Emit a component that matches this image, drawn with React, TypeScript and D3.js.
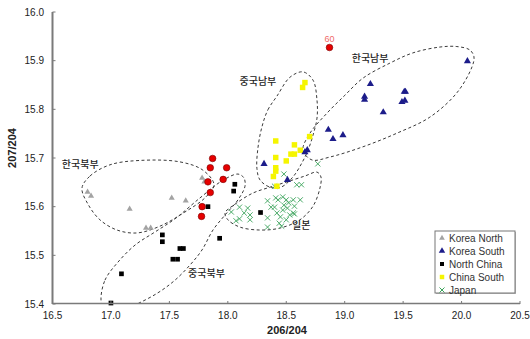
import React from "react";
import * as d3 from "d3";

const W = 530;
const H = 339;

const xTicks = [16.5, 17.0, 17.5, 18.0, 18.5, 19.0, 19.5, 20.0, 20.5];
const yTicks = [15.4, 15.5, 15.6, 15.7, 15.8, 15.9, 16.0];

const koreaNorth: [number, number][] = [
  [16.80, 15.630], [16.83, 15.622], [17.16, 15.595], [17.30, 15.556], [17.34, 15.556],
  [17.52, 15.618], [17.64, 15.612], [17.78, 15.659], [17.80, 15.651],
];
const koreaSouth: [number, number][] = [
  [20.05, 15.899], [19.22, 15.852], [19.17, 15.826], [19.17, 15.820], [19.51, 15.836],
  [19.52, 15.836], [19.49, 15.815], [19.515, 15.818], [19.33, 15.794], [18.985, 15.747],
  [18.90, 15.739], [18.86, 15.758], [18.68, 15.716], [18.66, 15.712], [18.31, 15.688],
  [18.51, 15.655],
];
const northChina: [number, number][] = [
  [18.06, 15.646], [18.05, 15.632], [17.83, 15.600], [18.28, 15.588], [17.93, 15.535],
  [17.59, 15.514], [17.62, 15.514], [17.44, 15.542], [17.44, 15.528], [17.53, 15.492],
  [17.57, 15.492], [17.09, 15.462], [17.00, 15.402],
];
const chinaSouth: [number, number][] = [
  [18.66, 15.855], [18.64, 15.845], [18.41, 15.735], [18.57, 15.727], [18.70, 15.744],
  [18.62, 15.716], [18.54, 15.708], [18.57, 15.708], [18.41, 15.701], [18.50, 15.694],
  [18.41, 15.680], [18.41, 15.673], [18.39, 15.662], [18.42, 15.642],
];
const japan: [number, number][] = [
  [18.77, 15.688], [18.48, 15.667], [18.40, 15.642], [18.59, 15.645], [18.63, 15.645],
  [18.03, 15.589], [18.10, 15.599], [18.17, 15.597], [18.14, 15.587], [18.19, 15.583],
  [18.10, 15.575], [18.19, 15.573], [18.07, 15.571], [18.34, 15.558], [18.44, 15.566],
  [18.46, 15.560], [18.34, 15.612], [18.37, 15.599], [18.47, 15.620], [18.43, 15.614],
  [18.50, 15.614], [18.56, 15.614], [18.62, 15.614], [18.40, 15.599], [18.42, 15.587],
  [18.47, 15.593], [18.51, 15.597], [18.57, 15.601], [18.53, 15.583], [18.45, 15.579],
  [18.56, 15.587], [18.34, 15.577], [18.50, 15.573], [18.41, 15.618], [18.52, 15.608],
  [18.57, 15.585], [18.48, 15.603],
];
const redSamples: [number, number][] = [
  [17.87, 15.699], [17.85, 15.680], [17.99, 15.680], [17.96, 15.656], [17.83, 15.651],
  [17.85, 15.629], [17.78, 15.600], [17.775, 15.580],
];
const labeledSample: [number, number] = [18.87, 15.927];
const labeledSampleText = "60";

// Dashed group outlines (data coordinates)
const outlineKoreaNorth: [number, number][] = [
  [16.752, 15.638], [16.821, 15.663], [16.992, 15.686], [17.249, 15.695], [17.591, 15.692],
  [17.787, 15.675], [17.882, 15.645], [17.804, 15.618], [17.633, 15.589], [17.420, 15.560],
  [17.223, 15.546], [17.052, 15.552], [16.906, 15.573], [16.804, 15.605],
];
const outlineNorthChina: [number, number][] = [
  [16.915, 15.408], [16.949, 15.449], [17.060, 15.486], [17.206, 15.521], [17.377, 15.548],
  [17.548, 15.575], [17.762, 15.618], [17.950, 15.653], [18.087, 15.667], [18.138, 15.659],
  [18.147, 15.642], [18.087, 15.614], [17.984, 15.585], [17.873, 15.552], [17.779, 15.511],
  [17.676, 15.480], [17.548, 15.449], [17.402, 15.423], [17.223, 15.400], [17.060, 15.384],
  [16.941, 15.388],
];
const outlineChinaSouth: [number, number][] = [
  [18.292, 15.764], [18.343, 15.799], [18.420, 15.827], [18.532, 15.866], [18.643, 15.877],
  [18.729, 15.860], [18.763, 15.819], [18.763, 15.782], [18.729, 15.747], [18.686, 15.716],
  [18.634, 15.690], [18.557, 15.661], [18.455, 15.640], [18.361, 15.640], [18.275, 15.655],
  [18.249, 15.679], [18.258, 15.721],
];
const outlineKoreaSouth: [number, number][] = [
  [18.643, 15.716], [18.703, 15.751], [18.848, 15.792], [19.002, 15.829], [19.156, 15.864],
  [19.387, 15.895], [19.584, 15.916], [19.815, 15.928], [19.960, 15.929], [20.071, 15.922],
  [20.106, 15.908], [20.089, 15.887], [19.960, 15.834], [19.729, 15.784], [19.447, 15.751],
  [19.156, 15.723], [18.874, 15.702], [18.720, 15.696],
];
const outlineJapan: [number, number][] = [
  [17.976, 15.587], [18.061, 15.605], [18.215, 15.628], [18.361, 15.640], [18.506, 15.651],
  [18.660, 15.663], [18.763, 15.671], [18.797, 15.661], [18.788, 15.638], [18.729, 15.601],
  [18.617, 15.573], [18.446, 15.556], [18.275, 15.552], [18.104, 15.558], [18.001, 15.573],
];

const groupLabels: { text: string; x: number; y: number }[] = [
  { text: "한국북부", x: 16.58, y: 15.680 },
  { text: "중국남부", x: 18.10, y: 15.849 },
  { text: "한국남부", x: 19.06, y: 15.897 },
  { text: "일본", x: 18.55, y: 15.555 },
  { text: "중국북부", x: 17.66, y: 15.456 },
];

const legendNames = ["Korea North", "Korea South", "North China", "China South", "Japan"];

const COLORS = {
  kn: "#a3a3a3",
  ks: "#1c1c8a",
  nc: "#000000",
  cs: "#f5f500",
  jp: "#3aa35a",
  red: "#e60000",
};

export default function App() {
  const margin = { left: 52.5, right: 520, top: 12, bottom: 304 };
  const x = d3.scaleLinear().domain([16.5, 20.5]).range([margin.left, margin.right]);
  const y = d3.scaleLinear().domain([15.4, 16.0]).range([margin.bottom, margin.top]);

  const outline = d3
    .line<[number, number]>()
    .x((d) => x(d[0]))
    .y((d) => y(d[1]))
    .curve(d3.curveCatmullRomClosed.alpha(0.5));

  const tri = (size: number) => d3.symbol(d3.symbolTriangle, size)() as string;
  const sq = (size: number) => d3.symbol(d3.symbolSquare, size)() as string;

  const crossPath = (s: number) => `M${-s},${-s}L${s},${s}M${-s},${s}L${s},${-s}`;

  const axisColor = "#7a7a7a";
  const tickFont = "'Liberation Sans', Arial, sans-serif";
  const krFont = "'Noto Sans CJK KR', sans-serif";

  const outlines = [outlineKoreaNorth, outlineNorthChina, outlineChinaSouth, outlineKoreaSouth, outlineJapan];

  const legendX = 435;
  const legendY = 231;
  const legendRowH = 13;

  const legendMarker = (i: number) => {
    if (i === 0) return <path d={tri(14)} fill={COLORS.kn} />;
    if (i === 1) return <path d={tri(18)} fill={COLORS.ks} />;
    if (i === 2) return <path d={sq(16)} fill={COLORS.nc} />;
    if (i === 3) return <path d={sq(20)} fill={COLORS.cs} />;
    return <path d={crossPath(2.5)} stroke={COLORS.jp} strokeWidth={1} fill="none" />;
  };

  return (
    <div style={{ position: "absolute", left: 0, top: 0 }}>
      <svg width={W} height={H} style={{ display: "block", background: "#fff" }}>
        <defs>
          <clipPath id="plotClip">
            <rect x={margin.left} y={margin.top} width={margin.right - margin.left} height={margin.bottom - margin.top} />
          </clipPath>
        </defs>

        <g clipPath="url(#plotClip)">
          {outlines.map((o, i) => (
            <path key={i} d={outline(o) as string} fill="none" stroke="#3a3a3a" strokeWidth={1} strokeDasharray="3,2.5" />
          ))}
        </g>

        {groupLabels.map((g, i) => (
          <text key={i} x={x(g.x)} y={y(g.y)} fontFamily={krFont} fontSize={10} fill="#222" fontWeight={500}>
            {g.text}
          </text>
        ))}

        <g>
          {koreaNorth.map((d, i) => (
            <path key={"kn" + i} d={tri(16)} transform={`translate(${x(d[0])},${y(d[1])})`} fill={COLORS.kn} />
          ))}
          {northChina.map((d, i) => (
            <path key={"nc" + i} d={sq(22)} transform={`translate(${x(d[0])},${y(d[1])})`} fill={COLORS.nc} />
          ))}
          {japan.map((d, i) => (
            <path key={"jp" + i} d={crossPath(2.6)} transform={`translate(${x(d[0])},${y(d[1])})`} stroke={COLORS.jp} strokeWidth={0.9} fill="none" />
          ))}
          {chinaSouth.map((d, i) => (
            <path key={"cs" + i} d={sq(30)} transform={`translate(${x(d[0])},${y(d[1])})`} fill={COLORS.cs} />
          ))}
          {koreaSouth.map((d, i) => (
            <path key={"ks" + i} d={tri(22)} transform={`translate(${x(d[0])},${y(d[1])})`} fill={COLORS.ks} />
          ))}
          {redSamples.map((d, i) => (
            <circle key={"r" + i} cx={x(d[0])} cy={y(d[1])} r={3.3} fill={COLORS.red} stroke="#700" strokeWidth={0.6} />
          ))}
          <circle cx={x(labeledSample[0])} cy={y(labeledSample[1])} r={3.3} fill={COLORS.red} stroke="#700" strokeWidth={0.6} />
          <text x={x(labeledSample[0])} y={y(labeledSample[1]) - 6} textAnchor="middle" fontFamily={tickFont} fontSize={9} fill="#f06a6a">
            {labeledSampleText}
          </text>
        </g>

        <g>
          <line x1={margin.left} x2={margin.left} y1={margin.top} y2={margin.bottom} stroke={axisColor} strokeWidth={2} />
          <line x1={margin.left} x2={margin.right} y1={margin.bottom - 0.5} y2={margin.bottom - 0.5} stroke={axisColor} strokeWidth={1.5} />
          {yTicks.map((t) => (
            <g key={"yt" + t}>
              <line x1={margin.left} x2={margin.left + 3} y1={y(t)} y2={y(t)} stroke={axisColor} strokeWidth={1} />
              <text x={44} y={y(t) + 3.5} textAnchor="end" fontFamily={tickFont} fontSize={10} fill="#222">
                {t.toFixed(1)}
              </text>
            </g>
          ))}
          {xTicks.map((t) => (
            <g key={"xt" + t}>
              <line x1={x(t)} x2={x(t)} y1={margin.bottom} y2={margin.bottom - 3} stroke={axisColor} strokeWidth={1} />
              <text x={x(t)} y={319} textAnchor="middle" fontFamily={tickFont} fontSize={10} fill="#222">
                {t.toFixed(1)}
              </text>
            </g>
          ))}
          <text x={287} y={334} textAnchor="middle" fontFamily={tickFont} fontSize={11} fontWeight="bold" fill="#222">
            206/204
          </text>
          <text transform={`translate(16,148) rotate(-90)`} textAnchor="middle" fontFamily={tickFont} fontSize={11} fontWeight="bold" fill="#222">
            207/204
          </text>
        </g>

        <g>
          <rect x={legendX + 1} y={legendY + 1} width={80} height={62} fill="#bbb" />
          <rect x={legendX} y={legendY} width={80} height={62} fill="#fff" stroke="#777" strokeWidth={1} />
          {legendNames.map((n, i) => (
            <g key={n} transform={`translate(${legendX},${legendY + 7 + i * legendRowH})`}>
              <g transform="translate(7,0)">{legendMarker(i)}</g>
              <text x={14} y={3.5} fontFamily={tickFont} fontSize={10} fill="#333">
                {n}
              </text>
            </g>
          ))}
        </g>
      </svg>
    </div>
  );
}
